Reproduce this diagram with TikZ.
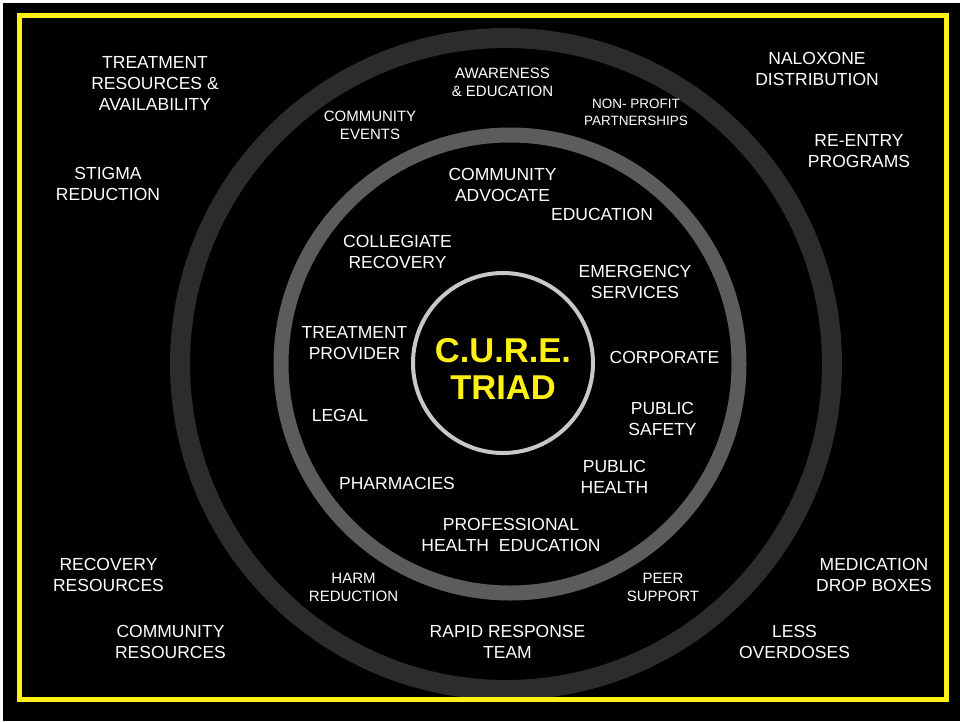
\documentclass[tikz,border=0pt]{standalone}
\usepackage{fontspec}
\setmainfont{Liberation Sans}
\definecolor{ringouter}{RGB}{44,44,44}
\definecolor{ringmid}{RGB}{92,92,92}
\definecolor{ringinner}{RGB}{200,200,200}
\definecolor{cureyellow}{RGB}{255,240,20}
\begin{document}
\begin{tikzpicture}[x=1pt,y=-1pt,
    big/.style={text=white,align=center,inner sep=0pt,font=\fontsize{17.5}{21}\selectfont},
    small/.style={text=white,align=center,inner sep=0pt,font=\fontsize{15}{18}\selectfont},
    tiny/.style={text=white,align=center,inner sep=0pt,font=\fontsize{13.5}{17}\selectfont},
    title/.style={text=cureyellow,align=center,inner sep=0pt,font=\fontsize{34.5}{37}\selectfont\bfseries}]
  \useasboundingbox (0,0) rectangle (960,721);
  \fill[white] (0,0) rectangle (960,721);
  \fill[black] (3,3) rectangle (960,721);
  \draw[ringouter,line width=20pt] (506,364) circle[radius=326];
  \draw[ringmid,line width=15pt] (510,364) circle[radius=229];
  \draw[ringinner,line width=4pt] (503,363) circle[radius=90];
  \draw[cureyellow,line width=5pt] (19.5,15.5) rectangle (946,699.5);
  \node[title] (cure) at (503,369) {C.U.R.E.\\TRIAD};
  % outer corners
  \draw
    (155,83) node[big] (treat) {TREATMENT\\RESOURCES \&\\AVAILABILITY}
    (108,183.5) node[big] (stigma) {STIGMA\\REDUCTION}
    (817,68.5) node[big] (nalox) {NALOXONE\\DISTRIBUTION}
    (859,151.5) node[big] (reentry) {RE-ENTRY\\PROGRAMS}
    (108.5,574.5) node[big] (recres) {RECOVERY\\RESOURCES}
    (170.5,641.5) node[big] (comres) {COMMUNITY\\RESOURCES}
    (874,574.5) node[big] (dropbox) {MEDICATION\\DROP BOXES}
    (794.5,641.5) node[big] (less) {LESS\\OVERDOSES}
    (507.5,641.5) node[big] (rapid) {RAPID RESPONSE\\TEAM};
  % outer ring
  \draw
    (502.5,82) node[small] (aware) {AWARENESS\\\& EDUCATION}
    (370,125) node[small] (events) {COMMUNITY\\EVENTS}
    (636,112.5) node[tiny] (nonprofit) {NON- PROFIT\\PARTNERSHIPS}
    (353.5,587) node[small] (harm) {HARM\\REDUCTION}
    (663,587) node[small] (peer) {PEER\\SUPPORT};
  % middle ring
  \draw
    (502.5,184.5) node[big] (advocate) {COMMUNITY\\ADVOCATE}
    (602,214) node[big] (educ) {EDUCATION}
    (397.5,251.5) node[big] (college) {COLLEGIATE\\RECOVERY}
    (635,281.5) node[big] (emerg) {EMERGENCY\\SERVICES}
    (354.5,343.5) node[big] (provider) {TREATMENT\\PROVIDER}
    (664.5,357) node[big] (corp) {CORPORATE}
    (662.5,418.5) node[big] (safety) {PUBLIC\\SAFETY}
    (340,415) node[big] (legal) {LEGAL}
    (614.5,476.5) node[big] (health) {PUBLIC\\HEALTH}
    (397,483) node[big] (pharm) {PHARMACIES}
    (511,534.5) node[big] (prof) {PROFESSIONAL\\HEALTH\ \ EDUCATION};
\end{tikzpicture}
\end{document}
